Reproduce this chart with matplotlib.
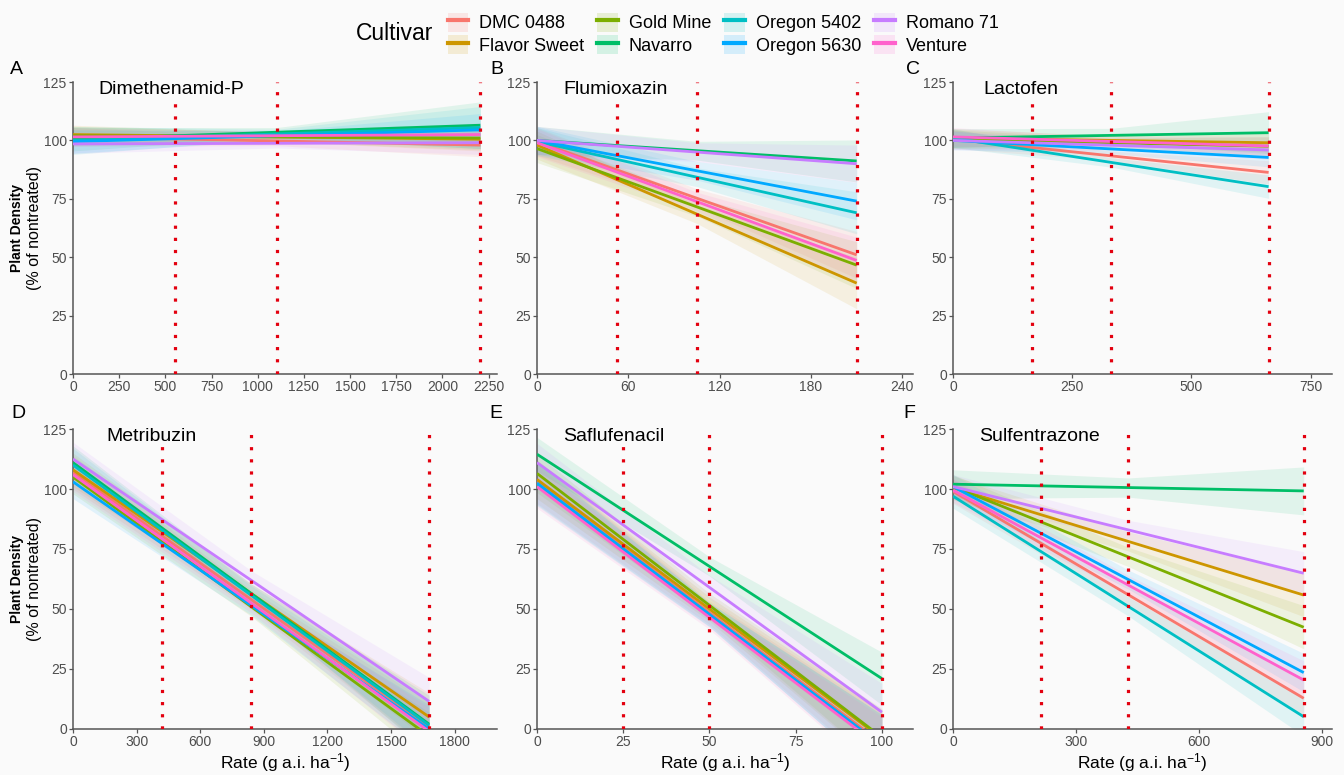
import matplotlib
matplotlib.use("Agg")
import matplotlib.pyplot as plt
from matplotlib.patches import Patch
from matplotlib.lines import Line2D
import numpy as np

plt.rcParams['font.family'] = ['Liberation Sans', 'DejaVu Sans']
plt.rcParams['mathtext.fontset'] = 'custom'
plt.rcParams['mathtext.rm'] = 'Liberation Sans'
plt.rcParams['mathtext.default'] = 'regular'

cultivars = ['DMC 0488', 'Flavor Sweet', 'Gold Mine', 'Navarro',
             'Oregon 5402', 'Oregon 5630', 'Romano 71', 'Venture']
colors = ['#F8766D', '#CD9600', '#7CAE00', '#00BE67',
          '#00BFC4', '#00A9FF', '#C77CFF', '#FF61CC']

panel_letters = ['A', 'B', 'C', 'D', 'E', 'F']
herbicides = ['Dimethenamid-P', 'Flumioxazin', 'Lactofen',
              'Metribuzin', 'Saflufenacil', 'Sulfentrazone']

# rates (g a.i./ha) marked with dotted lines: 0.25X, 0.5X, 1X
rates_dim = [551, 1102, 2205]
rates_flu = [52.5, 105, 210]
rates_lac = [165, 331, 662]
rates_met = [420, 840, 1680]
rates_saf = [25, 50, 100]
rates_sul = [214, 428, 856]

# x-axis ticks and limits
xticks_dim = [0, 250, 500, 750, 1000, 1250, 1500, 1750, 2000, 2250]
xticks_flu = [0, 60, 120, 180, 240]
xticks_lac = [0, 250, 500, 750]
xticks_met = [0, 300, 600, 900, 1200, 1500, 1800]
xticks_saf = [0, 25, 50, 75, 100]
xticks_sul = [0, 300, 600, 900]
xmax_dim, xmax_flu, xmax_lac = 2295, 247, 795
xmax_met, xmax_saf, xmax_sul = 2000, 109, 925

# fitted plant density (% of nontreated) at rate 0 and at the 1X rate
start_dim = [101.5, 102.5, 102.0, 100.5, 100.0, 99.5, 98.5, 101.5]
end_dim = [98.0, 100.5, 101.0, 106.5, 105.5, 104.5, 99.0, 102.5]
start_flu = [99.5, 98.0, 96.5, 100.0, 99.5, 100.0, 100.0, 99.0]
end_flu = [51.0, 38.9, 46.6, 91.2, 69.0, 74.0, 90.0, 48.6]
start_lac = [100.5, 101.0, 100.5, 101.0, 101.0, 100.0, 100.0, 101.5]
end_lac = [86.3, 99.0, 97.5, 103.3, 80.2, 92.7, 95.9, 97.6]
start_met = [107.0, 108.0, 105.0, 111.0, 110.0, 103.0, 112.5, 106.0]
end_met = [1.0, 5.0, -3.0, 2.0, 1.5, 0.0, 11.5, -1.0]
start_saf = [103.0, 104.0, 106.5, 114.5, 102.0, 102.5, 111.0, 101.0]
end_saf = [-6.0, -4.0, -3.5, 21.0, -7.0, -7.0, 7.0, -8.0]
start_sul = [99.0, 100.5, 101.0, 102.0, 97.0, 101.0, 101.0, 99.5]
end_sul = [12.8, 55.8, 42.4, 99.2, 5.1, 23.5, 64.9, 20.4]

# confidence band half-widths at rate 0, 0.5X and 1X
hw0_dim = [4, 4, 4, 5, 6, 5, 4, 4]
hwm_dim = [2, 2, 2, 2, 2, 2, 2, 2]
hw1_dim = [5, 5, 5, 10, 9, 7, 5, 5]
hw0_flu = [6, 6, 6, 6, 6, 6, 6, 6]
hwm_flu = [4, 4, 4, 4, 4, 4, 4, 4]
hw1_flu = [10, 11, 10, 9, 9, 8, 8, 10]
hw0_lac = [4, 4, 4, 4, 4, 4, 4, 4]
hwm_lac = [2, 2, 2, 3, 2, 2, 2, 2]
hw1_lac = [5, 4, 4, 9, 5, 4, 4, 4]
hw0_met = [7, 7, 7, 7, 7, 7, 7, 7]
hwm_met = [4, 4, 4, 4, 4, 4, 4, 4]
hw1_met = [10, 10, 10, 12, 10, 10, 10, 10]
hw0_saf = [9, 8, 8, 7, 9, 9, 8, 9]
hwm_saf = [5, 5, 5, 4, 5, 5, 5, 5]
hw1_saf = [13, 12, 12, 11, 13, 13, 12, 13]
hw0_sul = [5, 5, 5, 6, 5, 5, 5, 5]
hwm_sul = [4, 4, 4, 4, 4, 4, 4, 4]
hw1_sul = [8, 9, 9, 10, 8, 8, 9, 8]

panels = [
    (rates_dim, xticks_dim, xmax_dim, start_dim, end_dim, hw0_dim, hwm_dim, hw1_dim),
    (rates_flu, xticks_flu, xmax_flu, start_flu, end_flu, hw0_flu, hwm_flu, hw1_flu),
    (rates_lac, xticks_lac, xmax_lac, start_lac, end_lac, hw0_lac, hwm_lac, hw1_lac),
    (rates_met, xticks_met, xmax_met, start_met, end_met, hw0_met, hwm_met, hw1_met),
    (rates_saf, xticks_saf, xmax_saf, start_saf, end_saf, hw0_saf, hwm_saf, hw1_saf),
    (rates_sul, xticks_sul, xmax_sul, start_sul, end_sul, hw0_sul, hwm_sul, hw1_sul),
]

W, H = 1344, 775
BG = '#fafafa'
fig = plt.figure(figsize=(W / 100, H / 100), dpi=100, facecolor=BG)

# axes boxes in pixels: (left, right, top, bottom)
col_px = [(73, 497), (537, 913), (953, 1332)]
row_px = [(82, 374), (429, 729)]
title_x = [0.059, 0.069, 0.079, 0.078, 0.069, 0.069]
letter_px = [(10, 70), (490, 70), (906, 70), (11, 414), (489, 414), (903, 414)]

axis_col = '#555555'
for i in range(6):
    r, c = divmod(i, 3)
    l, rr = col_px[c]
    t, b = row_px[r]
    ax = fig.add_axes([l / W, 1 - b / H, (rr - l) / W, (b - t) / H])
    ax.set_facecolor(BG)
    rates, xt, xmax, st, en, h0, hm, h1 = panels[i]
    xmid = rates[1]
    xend = rates[2]
    for k in range(8):
        ymid = st[k] + (en[k] - st[k]) * xmid / xend
        xs = [0, xmid, xend]
        lo = [st[k] - h0[k], ymid - hm[k], en[k] - h1[k]]
        hi = [st[k] + h0[k], ymid + hm[k], en[k] + h1[k]]
        ax.fill_between(xs, lo, hi, color=colors[k], alpha=0.10, lw=0, zorder=1)
    for k in range(8):
        ax.plot([0, xend], [st[k], en[k]], color=colors[k], lw=2.0,
                solid_capstyle='butt', zorder=3)
    for rv in rates:
        ax.axvline(rv, color='#e3000f', lw=2.3, linestyle=(0, (1, 2.8)),
                   dash_capstyle='butt', zorder=4)
    ax.set_xlim(0, xmax)
    ax.set_ylim(0, 125)
    ax.set_xticks(xt)
    ax.set_yticks([0, 25, 50, 75, 100, 125])
    ax.margins(0)
    for s in ['top', 'right']:
        ax.spines[s].set_visible(False)
    for s in ['left', 'bottom']:
        ax.spines[s].set_color(axis_col)
        ax.spines[s].set_linewidth(1.1)
    ax.tick_params(axis='both', colors=axis_col, labelcolor='#4d4d4d',
                   labelsize=10, length=3, width=0.9, pad=1.5)
    ax.text(title_x[i], 0.975, herbicides[i], transform=ax.transAxes,
            fontsize=14, ha='left', va='center', color='black', zorder=6,
            bbox=dict(facecolor=BG, edgecolor='none', pad=1.5))
    lx, ly = letter_px[i]
    fig.text(lx / W, 1 - ly / H, panel_letters[i], fontsize=14,
             ha='left', va='center', color='black')
    if c == 0:
        cy = 1 - ((t + b) / 2) / H
        fig.text(17 / W, cy, 'Plant Density', rotation=90, fontsize=10,
                 fontweight='bold', ha='center', va='center')
        fig.text(35 / W, cy, '(% of nontreated)', rotation=90, fontsize=11.5,
                 ha='center', va='center')
    if r == 1:
        ax.set_xlabel('Rate (g a.i. ha$^{-1}$)', fontsize=12.5, labelpad=1)

# legend
fig.text(356 / W, 1 - 33 / H, 'Cultivar', fontsize=16.5, ha='left', va='center')
handles = [(Patch(facecolor=colors[k], alpha=0.15, edgecolor='none'),
            Line2D([], [], color=colors[k], lw=3)) for k in range(8)]
fig.legend(handles, cultivars, ncol=4, loc='upper left',
           bbox_to_anchor=(435 / W, 1 - 0 / H), frameon=False, fontsize=13,
           handlelength=1.15, handleheight=1.25, handletextpad=0.6,
           columnspacing=0.72, labelspacing=0.15, borderpad=0.2)

fig.savefig('out.png', dpi=100, facecolor=BG)
